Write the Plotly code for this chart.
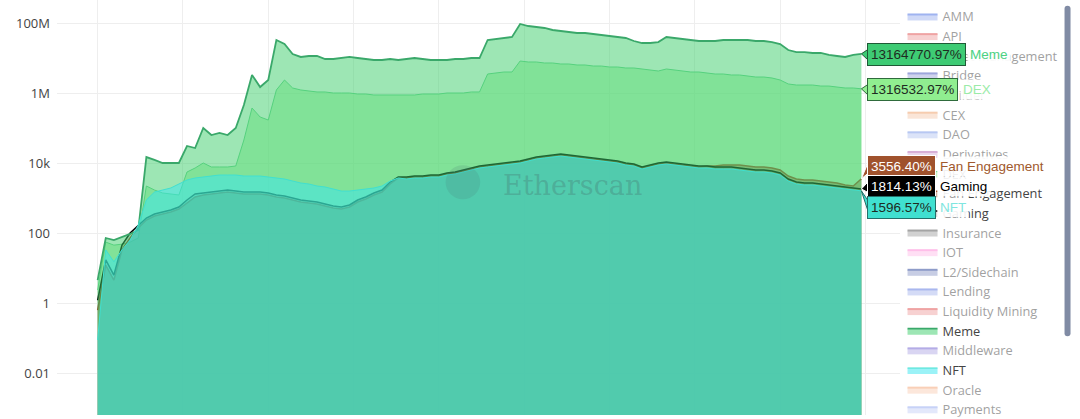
import numpy as np
import pandas as pd
import plotly.graph_objects as go

# ---------------- data ----------------
dates = pd.date_range("2023-01-01", periods=95, freq="4D")

meme = [4.5, 72, 63, 77, 94, 122, 14800, 12200, 10000, 10000,
        10000, 30600, 26800, 100000, 63000, 72000, 63000, 100000, 454000, 3270000,
        1480000, 2350000, 32700000, 25100000, 13000000, 10700000, 11400000, 11400000, 9360000, 9360000,
        10000000, 10700000, 10000000, 9360000, 8770000, 8770000, 9360000, 8770000, 9360000, 10000000,
        9360000, 8770000, 8770000, 8770000, 9360000, 9360000, 10000000, 10000000, 32700000, 34900000,
        37300000, 39800000, 93600000, 82000000, 76900000, 72000000, 63100000, 59000000, 55300000, 51800000,
        51800000, 48500000, 45400000, 42500000, 39800000, 37300000, 30600000, 26800000, 26800000, 28600000,
        39800000, 37300000, 34900000, 32700000, 30600000, 30600000, 30600000, 32700000, 32700000, 32700000,
        32700000, 30600000, 30600000, 28600000, 25100000, 16900000, 14800000, 14800000, 13900000, 13900000,
        12200000, 11400000, 10700000, 12200000, 13164770.97]

dex = [2.35, 55, 45, 48, 55, 72, 2200, 1690, 1390, 1300,
       1220, 5530, 7200, 10000, 7690, 7690, 7690, 8200, 45400, 373000,
       206000, 169000, 1220000, 2350000, 1390000, 1220000, 1140000, 1070000, 1070000, 1000000,
       1000000, 1000000, 936000, 936000, 877000, 877000, 877000, 877000, 877000, 877000,
       936000, 936000, 936000, 1000000, 1000000, 1000000, 1070000, 1070000, 3490000, 3730000,
       3980000, 3980000, 8200000, 7690000, 7690000, 7200000, 7200000, 6740000, 6740000, 6310000,
       6310000, 5900000, 5900000, 5530000, 5530000, 5180000, 5180000, 4850000, 4540000, 4250000,
       4850000, 4540000, 4250000, 3980000, 3980000, 3730000, 3490000, 3490000, 3270000, 3270000,
       3060000, 2860000, 2860000, 2680000, 2350000, 1810000, 1690000, 1690000, 1690000, 1580000,
       1580000, 1480000, 1390000, 1390000, 1316532.97]

nft = [0.088, 33, 15, 33, 63, 169, 877, 1480, 1690, 1930,
       2510, 3270, 3730, 3980, 4250, 4540, 4540, 4540, 4250, 4250,
       4250, 3980, 3730, 3490, 3060, 2680, 2510, 2200, 2060, 1810,
       1580, 1580, 1690, 1810, 1930, 2200, 3060, 3730, 3490, 3730,
       3730, 3980, 3980, 4540, 4850, 5530, 6310, 7200, 7690, 8200,
       8770, 9360, 10000, 11400, 13000, 13900, 14800, 15800, 14800, 13900,
       13000, 12200, 11400, 10700, 10000, 8770, 8200, 6740, 7690, 8770,
       9360, 8770, 8200, 7690, 7200, 7200, 6740, 6740, 6740, 6310,
       5900, 5530, 5530, 5180, 4540, 3060, 2510, 2350, 2350, 2200,
       2060, 1930, 1810, 1690, 1596.57]

gaming = [1.2, 17, 6.3, 45, 100, 169, 268, 349, 398, 454,
          553, 877, 1300, 1390, 1480, 1580, 1690, 1580, 1480, 1480,
          1480, 1390, 1220, 1140, 1000, 877, 820, 769, 674, 590,
          553, 631, 877, 1070, 1390, 1690, 2860, 3980, 3980, 4250,
          4250, 4540, 4540, 5180, 5530, 6310, 7200, 8200, 8770, 9360,
          10000, 10700, 11400, 13000, 14800, 15800, 16900, 18100, 16900, 15800,
          14800, 13900, 13000, 12200, 11400, 10000, 9360, 7690, 8770, 10000,
          10700, 10000, 9360, 8770, 8200, 8200, 7690, 7690, 7690, 7200,
          6740, 6310, 6310, 5900, 5180, 3490, 2860, 2680, 2680, 2510,
          2350, 2200, 2060, 1930, 1814.13]

fan_engagement = [0.63, 12, 4.5, 33, 72, 139, 235, 306, 349, 398,
                  485, 720, 1070, 1220, 1300, 1390, 1480, 1390, 1300, 1300,
                  1300, 1220, 1070, 1000, 877, 769, 720, 674, 590, 518,
                  485, 553, 769, 936, 1220, 1480, 2510, 3730, 3730, 3980,
                  3980, 4250, 4250, 4850, 5180, 5900, 6740, 7690, 8200, 8770,
                  9360, 10000, 10700, 12200, 13900, 14800, 15800, 16900, 15800, 14800,
                  13900, 13000, 12200, 11400, 10700, 9360, 8770, 7200, 8200, 9360,
                  10000, 9360, 8770, 8200, 7690, 8200, 8200, 8770, 8770, 8770,
                  8200, 7690, 7690, 7200, 6310, 4250, 3490, 3270, 3270, 3060,
                  2860, 2680, 2350, 2200, 3556.40]

categories = ["AMM", "API", "Asset Management", "Bridge", "Builder", "CEX", "DAO",
              "Derivatives", "DEX", "Fan Engagement", "Gaming", "Insurance", "IOT",
              "L2/Sidechain", "Lending", "Liquidity Mining", "Meme", "Middleware",
              "NFT", "Oracle", "Payments", "Prediction Markets", "Privacy",
              "Restaking Protocols", "Staking", "Yield Aggregators"]

series = {"DEX": dex, "Fan Engagement": fan_engagement, "Gaming": gaming,
          "Meme": meme, "NFT": nft}

# ---------------- styles ----------------
line_colors = {
    "AMM": "#4169E1", "API": "#E04848", "Asset Management": "#B8860B",
    "Bridge": "#3F4FB8", "Builder": "#9ACD32", "CEX": "#EE9A60", "DAO": "#7090E6",
    "Derivatives": "#B060B0", "DEX": "#6FD592", "Fan Engagement": "#A0522D",
    "Gaming": "#000000", "Insurance": "#4A4A4A", "IOT": "#FF7FD4",
    "L2/Sidechain": "#1F3A93", "Lending": "#5470DE", "Liquidity Mining": "#E04848",
    "Meme": "#3AA86A", "Middleware": "#6A5ACD", "NFT": "#40E0D0",
    "Oracle": "#F4A070", "Payments": "#8FA5F0", "Prediction Markets": "#20B2AA",
    "Privacy": "#708090", "Restaking Protocols": "#DAA520", "Staking": "#BA55D3",
    "Yield Aggregators": "#2E8B57",
}
fill_colors = {
    "DEX": "rgba(144,238,144,0.5)",
    "Fan Engagement": "rgba(160,82,45,0.45)",
    "Gaming": "rgba(0,0,0,0.15)",
    "Meme": "rgba(59,205,105,0.5)",
    "NFT": "rgba(55,230,240,0.5)",
}
line_widths = {"DEX": 1, "Fan Engagement": 1.5, "Gaming": 1.5, "Meme": 1.8, "NFT": 1}

fig = go.Figure()
for name in categories:
    if name in series:
        fig.add_trace(go.Scatter(
            x=dates, y=series[name], name=name, mode="lines",
            line=dict(color=line_colors[name], width=line_widths[name]),
            fill="tozeroy", fillcolor=fill_colors[name], hoverinfo="skip"))
    else:
        fig.add_trace(go.Scatter(
            x=[None], y=[None], name=name, mode="lines",
            line=dict(color=line_colors[name], width=2),
            fill="tozeroy", visible="legendonly"))

# ---------------- end-of-line labels (hover style) ----------------
label_order = ["Meme", "DEX", "Fan Engagement", "Gaming", "NFT"]
label_shift = {"Meme": -1, "DEX": -1, "Fan Engagement": 12, "Gaming": 2, "NFT": -17}
box_bg = {"Meme": "#3ECB74", "DEX": "#90EE90", "Fan Engagement": "#A0522D",
          "Gaming": "#000000", "NFT": "#40E0D0"}
box_fg = {"Meme": "#1E2B22", "DEX": "#1E2B22", "Fan Engagement": "#FFFFFF",
          "Gaming": "#FFFFFF", "NFT": "#1E2B22"}
box_border = {"Meme": "#1F5A36", "DEX": "#2F6B3C", "Fan Engagement": "#FFFFFF",
              "Gaming": "#FFFFFF", "NFT": "#24706A"}
name_color = {"Meme": "#4CD283", "DEX": "#9BEBA8", "Fan Engagement": "#A0592D",
              "Gaming": "#000000", "NFT": "#7FE6E0"}
LABEL_FONT = 13.5


def text_width(s, size):
    w = 0.0
    for ch in s:
        if ch.isdigit():
            w += 0.556
        elif ch == ".":
            w += 0.278
        elif ch == "%":
            w += 0.889
        else:
            w += 0.6
    return w * size


last_x = dates[-1]
for name in label_order:
    val = series[name][-1]
    txt = f"{val:.2f}%"
    ylog = float(np.log10(val))
    s = label_shift[name]
    bw = text_width(txt, LABEL_FONT) + 8
    fig.add_annotation(x=last_x, y=ylog, xref="x", yref="y", text=txt,
                       showarrow=False, xanchor="left", yanchor="middle",
                       xshift=6, yshift=s, bgcolor=box_bg[name],
                       bordercolor=box_border[name], borderwidth=1, borderpad=3,
                       font=dict(family="Arial", size=LABEL_FONT, color=box_fg[name]))
    fig.add_annotation(x=last_x, y=ylog, xref="x", yref="y", text=name,
                       showarrow=False, xanchor="left", yanchor="middle",
                       xshift=6 + bw + 1, yshift=s, bgcolor="rgba(255,255,255,0.92)",
                       borderpad=2,
                       font=dict(family="Arial", size=LABEL_FONT, color=name_color[name]))
    fig.add_shape(type="path", xref="x", yref="y", xsizemode="pixel",
                  ysizemode="pixel", xanchor=last_x, yanchor=val,
                  path=f"M0,0 L7.5,{s + 6} L7.5,{s - 6} Z",
                  fillcolor=box_bg[name], line=dict(color=box_border[name], width=1),
                  layer="above")

# ---------------- watermark ----------------
fig.add_shape(type="circle", xref="paper", yref="paper",
              x0=0.461, x1=0.502, y0=0.52, y1=0.602,
              fillcolor="rgba(70,110,110,0.16)", line=dict(width=0), layer="above")
fig.add_annotation(xref="paper", yref="paper", x=0.612, y=0.554, text="Etherscan",
                   showarrow=False, font=dict(family="DejaVu Serif", size=27,
                                              color="rgba(70,105,105,0.30)"))

fig.update_layout(
    template="plotly_white",
    width=1080, height=419,
    margin=dict(l=57, r=180, t=0, b=4, autoexpand=False),
    paper_bgcolor="white", plot_bgcolor="white",
    font=dict(family="Open Sans", size=12, color="#444"),
    showlegend=True, hovermode=False,
    legend=dict(x=1.003, y=0.996, xanchor="left", yanchor="top", bgcolor="white",
                font=dict(size=12.8, color="#444"), itemwidth=30, tracegroupgap=0),
)
fig.update_xaxes(type="date", range=[dates[0] - pd.Timedelta(days=20), dates[-1] + pd.Timedelta(days=19)],
                 showticklabels=False, showgrid=True, gridcolor="#EEEEEE", automargin=False,
                 tick0=dates[0], dtick=42 * 86400000, zeroline=False, showline=False, ticks="")
fig.update_yaxes(type="log", range=[-3.2, 8.657], dtick=2, showgrid=True, gridcolor="#EEEEEE",
                 zeroline=False, showline=False, ticks="", ticklabelstandoff=6, automargin=False,
                 tickfont=dict(size=13, color="#444"))

fig.write_html("out.html", config={"displayModeBar": False},
               post_script="document.body.style.margin='0';document.body.style.overflow='hidden';")
